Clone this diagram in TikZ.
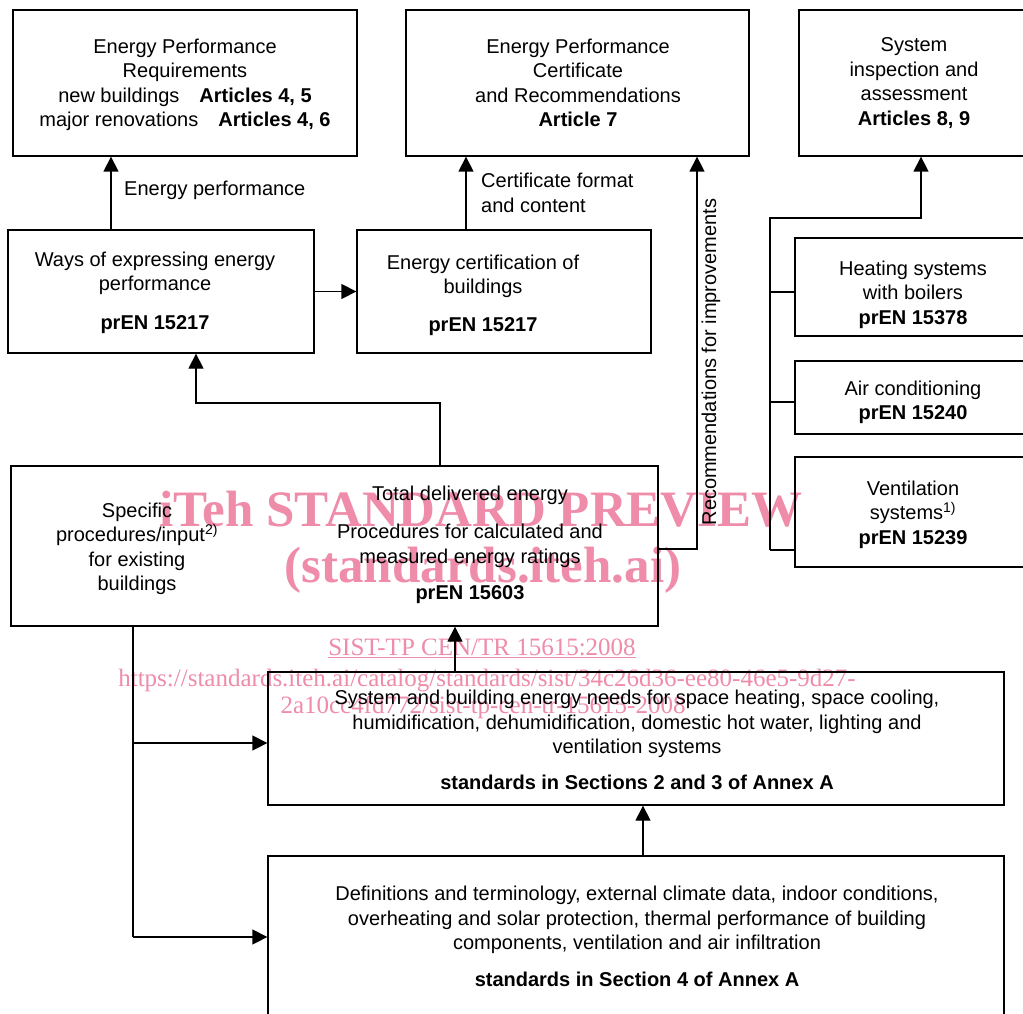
\documentclass[tikz,border=0pt]{standalone}
\usepackage{fontspec}
\setmainfont{Liberation Sans}
\newfontfamily\wmfont{Liberation Serif}
\usetikzlibrary{arrows.meta}
\definecolor{wmpink}{RGB}{238,140,170}
\begin{document}
\begin{tikzpicture}[x=1pt,y=-1pt,
  box/.style={draw=black, line width=1.3pt, inner sep=0pt, fill=none},
  txt/.style={inner sep=0pt, align=center, font=\fontsize{20}{24.5}\selectfont},
  lbl/.style={inner sep=0pt, align=left, font=\fontsize{20}{24.5}\selectfont},
  line/.style={draw=black, line width=1.3pt},
  arr/.style={line, -{Triangle[width=15pt,length=15pt]}},
  wm/.style={inner sep=0pt, text=wmpink, align=center}
]
\useasboundingbox (0,0) rectangle (1023,1014);
\fill[white] (0,0) rectangle (1023,1014);

% watermark
\node[wm, font=\wmfont\fontsize{51}{51}\selectfont\bfseries] (wm1) at (481,509) {iTeh STANDARD PREVIEW};
\node[wm, font=\wmfont\fontsize{51}{51}\selectfont\bfseries] (wm2) at (483,570) {(standards.iteh.ai)};
\node[wm, font=\wmfont\fontsize{25}{25}\selectfont] (wm3) at (482,648) {\underline{SIST-TP CEN/TR 15615:2008}};
\node[wm, font=\wmfont\fontsize{25}{25}\selectfont] (wm4) at (487,681) {https://standards.iteh.ai/catalog/standards/sist/34c26d36-ee80-46e5-9d27-};
\node[wm, font=\wmfont\fontsize{25}{25}\selectfont] (wm5) at (483,707) {2a10cc4fd772/sist-tp-cen-tr-15615-2008};

% boxes
\node[box, minimum width=344pt, minimum height=146pt] (A) at (185,83) {};
\node[box, minimum width=343pt, minimum height=146pt] (B) at (577.5,83) {};
\node[box, minimum width=241pt, minimum height=146pt] (C) at (919.5,83) {};
\node[box, minimum width=306pt, minimum height=123pt] (D) at (161,291.5) {};
\node[box, minimum width=294pt, minimum height=123pt] (E) at (504,291.5) {};
\node[box, minimum width=245pt, minimum height=98pt] (F) at (917.5,287) {};
\node[box, minimum width=245pt, minimum height=73pt] (G) at (917.5,397.5) {};
\node[box, minimum width=245pt, minimum height=110pt] (H) at (917.5,512) {};
\node[box, minimum width=647pt, minimum height=160pt] (I) at (334.5,546) {};
\node[box, minimum width=736pt, minimum height=133pt] (J) at (636,738.5) {};
\node[box, minimum width=736pt, minimum height=174pt] (K) at (636,943) {};

% box texts
\node[txt] (At) at (185,85) {Energy Performance\\Requirements\\new buildings\quad\textbf{Articles 4, 5}\\major renovations\quad\textbf{Articles 4, 6}};
\node[txt] (Bt) at (578,83) {Energy Performance\\Certificate\\and Recommendations\\\textbf{Article 7}};
\node[txt] (Ct) at (914,83) {System\\inspection and\\assessment\\\textbf{Articles 8, 9}};
\node[txt] (Dt) at (155,293) {Ways of expressing energy\\performance\\[14.5pt]\textbf{prEN 15217}};
\node[txt] (Et) at (483,295.5) {Energy certification of\\buildings\\[13.5pt]\textbf{prEN 15217}};
\node[txt] (Ft) at (913,294.5) {Heating systems\\with boilers\\\textbf{prEN 15378}};
\node[txt] (Gt) at (913,402.5) {Air conditioning\\\textbf{prEN 15240}};
\node[txt] (Ht) at (913,514.5) {Ventilation\\systems\textsuperscript{1)}\\\textbf{prEN 15239}};
\node[txt] (Ilt) at (137,549) {Specific\\procedures/input\textsuperscript{2)}\\for existing\\buildings};
\node[txt] (Irt) at (470,545) {Total delivered energy\\[13.5pt]Procedures for calculated and\\measured energy ratings\\[11.5pt]\textbf{prEN 15603}};
\node[txt] (Jt) at (637,740) {System and building energy needs for space heating, space cooling,\\humidification, dehumidification, domestic hot water, lighting and\\ventilation systems\\[11.5pt]\textbf{standards in Sections 2 and 3 of Annex A}};
\node[txt] (Kt) at (637,936.5) {Definitions and terminology, external climate data, indoor conditions,\\overheating and solar protection, thermal performance of building\\components, ventilation and air infiltration\\[12pt]\textbf{standards in Section 4 of Annex A}};

% connector helpers
\coordinate (x1) at (111,0);
\coordinate (x2) at (466,0);
\coordinate (k1) at (440,403);
\coordinate (k2) at (196,403);
\coordinate (k3) at (697,549);
\coordinate (b1) at (770,218);
\coordinate (b2) at (921,218);
\coordinate (b3) at (770,550);
\coordinate (t1) at (770,292);
\coordinate (t2) at (770,402);
\coordinate (k5) at (455,0);
\coordinate (k6) at (643,0);
\coordinate (k7) at (133,743);
\coordinate (k8) at (133,937);

% connectors
\draw[arr] (x1 |- D.north) -- (x1 |- A.south);
\draw[arr] (x2 |- E.north) -- (x2 |- B.south);
\draw[arr] (D.east) -- (E.west);
\draw[arr] (k1 |- I.north) -- (k1) -- (k2) -- (k2 |- D.south);
\draw[arr] (I.east |- k3) -- (k3) -- (k3 |- B.south);
\draw[arr] (b3) -- (b1) -- (b2) -- (b2 |- C.south);
\draw[line] (t1) -- (t1 -| F.west);
\draw[line] (t2) -- (t2 -| G.west);
\draw[line] (b3) -- (b3 -| H.west);
\draw[arr] (k5 |- J.north) -- (k5 |- I.south);
\draw[arr] (k6 |- K.north) -- (k6 |- J.south);
\draw[line] (k7 |- I.south) -- (k8);
\draw[arr] (k7) -- (k7 -| J.west);
\draw[arr] (k8) -- (k8 -| K.west);

% connector labels
\node[lbl, anchor=west] (L1) at (124,190) {Energy performance};
\node[lbl, anchor=west] (L2) at (481,193) {Certificate format\\and content};
\node[lbl, rotate=90] (L3) at (711,362) {Recommendations for improvements};
\end{tikzpicture}
\end{document}
